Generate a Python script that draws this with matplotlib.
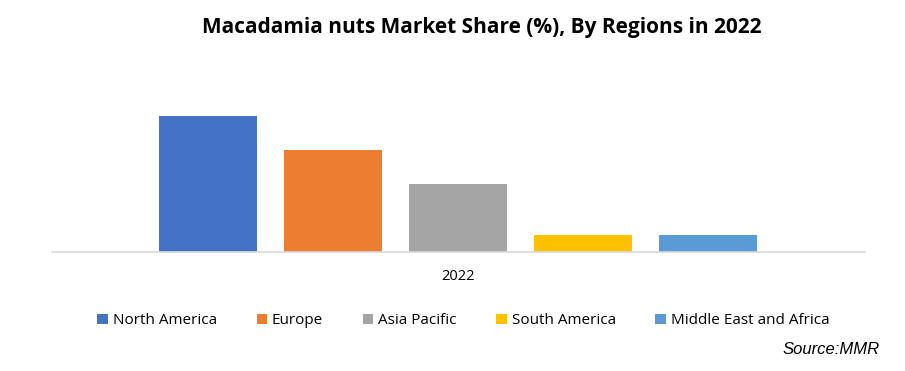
import numpy as np
import matplotlib.pyplot as plt

regions = ['North America', 'Europe', 'Asia Pacific', 'South America', 'Middle East and Africa']
shares = [40, 30, 20, 5, 5]
year = '2022'
colors = ['#4472C4', '#ED7D31', '#A5A5A5', '#FFC000', '#5B9BD5']

plt.rcParams['font.family'] = ['Open Sans', 'DejaVu Sans']

fig = plt.figure(figsize=(9.05, 3.71), dpi=100)
ax = fig.add_axes([0.0575, 0.3208, 0.898, 0.4124])

width = 0.1205
step = 0.1538
offsets = (np.arange(len(regions)) - (len(regions) - 1) / 2) * step
for off, val, col, name in zip(offsets, shares, colors, regions):
	ax.bar(off, val, width=width, color=col, label=name)

ax.set_xlim(-0.5, 0.5)
ax.set_ylim(0, 45)
ax.set_yticks([])
ax.set_xticks([0])
ax.set_xticklabels([year], fontsize=10.5)
ax.tick_params(axis='x', length=0, pad=12)
for s in ['top', 'right', 'left']:
	ax.spines[s].set_visible(False)
ax.spines['bottom'].set_color('#D9D9D9')
ax.spines['bottom'].set_linewidth(1.2)

fig.text(0.532, 0.925, 'Macadamia nuts Market Share (%), By Regions in 2022',
	ha='center', va='center', fontsize=15, fontweight='bold')

fig.legend(loc='center', bbox_to_anchor=(0.512, 0.135), ncol=5, frameon=False,
	fontsize=11, handlelength=0.7, handleheight=0.7, handletextpad=0.3,
	columnspacing=2.6)

fig.text(0.972, 0.057, 'Source:MMR', ha='right', va='center', fontsize=12,
	style='italic', family=['Liberation Sans', 'DejaVu Sans'])

fig.savefig('out.png', dpi=100)
